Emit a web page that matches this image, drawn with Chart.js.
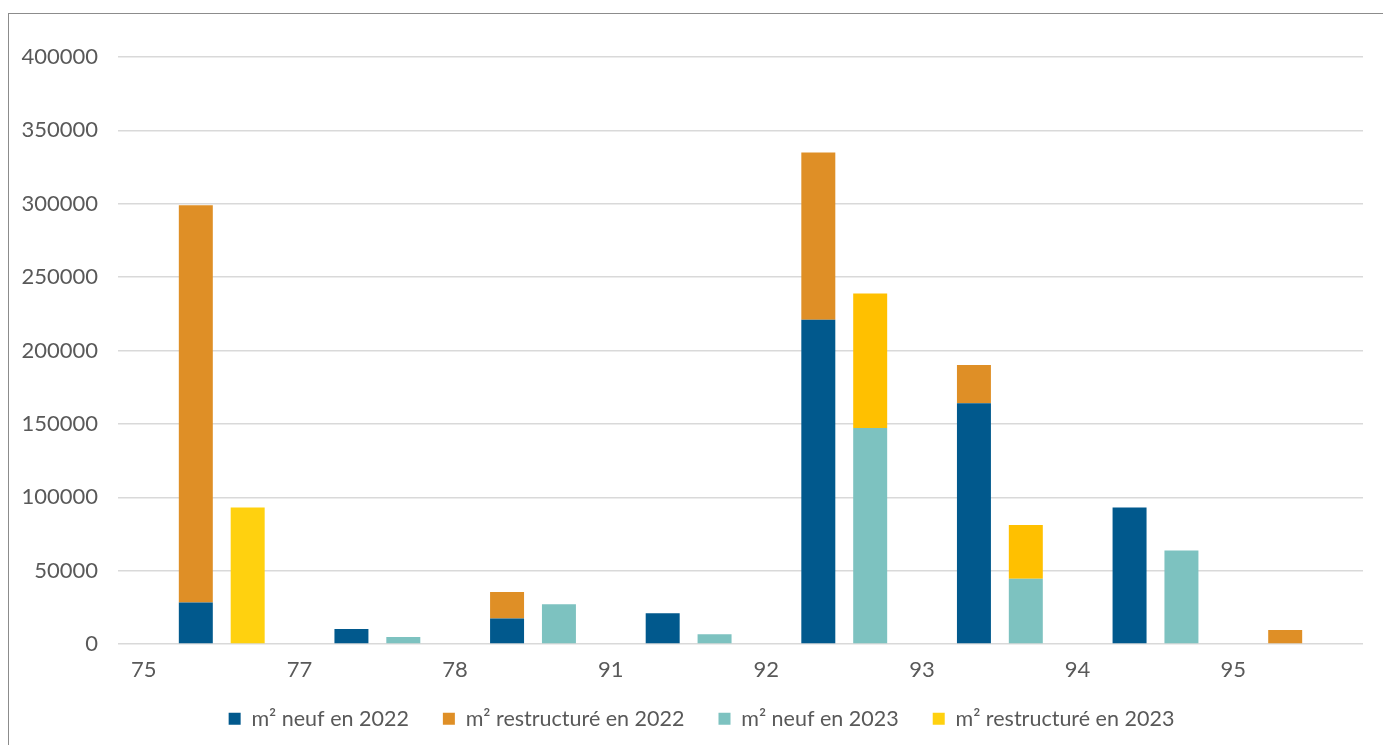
<!DOCTYPE html>
<html lang="fr">
<head>
<meta charset="utf-8">
<title>m² neuf / restructuré 2022-2023</title>
<script src="https://cdn.jsdelivr.net/npm/chart.js@4/dist/chart.umd.min.js"></script>
<style>
  html, body { margin: 0; padding: 0; background: #fff; overflow: hidden; }
  #wrap { position: relative; width: 1383px; height: 745px; }
  #frame {
    position: absolute; left: 8px; top: 13px; width: 1400px; height: 760px;
    border: 1px solid #8c8c8c; box-sizing: border-box; pointer-events: none;
  }
  #chart { position: absolute; left: 0; top: 0; }
</style>
</head>
<body>
<div id="wrap">
  <div id="frame"></div>
  <canvas id="chart" width="1383" height="745"></canvas>
</div>
<script>
// Departments on the x axis
const departements = ['75', '77', '78', '91', '92', '93', '94', '95'];

// Series values (m²)
const neuf2022 = [28200, 10300, 17300, 21000, 221000, 164000, 93000, 0];
const restructure2022 = [270800, 0, 18200, 0, 114000, 26200, 0, 9500];
const neuf2023 = [0, 4800, 27100, 6700, 147200, 44400, 63700, 0];
const restructure2023 = [93000, 0, 0, 0, 91700, 36700, 0, 0];

const seriesLabels = [
  'm² neuf en 2022',
  'm² restructuré en 2022',
  'm² neuf en 2023',
  'm² restructuré en 2023'
];

// Y axis range
const yMin = 0;
const yMax = 400000;
const yStep = 50000;

const textColor = '#595959';
const fontFamily = 'Lato, "Open Sans", sans-serif';

// empty slot so each group sits like in the original (label on the left slot)
const emptySlot = departements.map(() => 0);

// the legend items need wide gaps but sit close to the axis: lift it a bit,
// and center it a little to the right like the original
const moveLegend = {
  id: 'moveLegend',
  afterLayout(chart) {
    const lg = chart.legend;
    if (!lg) return;
    lg.top -= 10;
    lg.bottom -= 10;
    lg.left += 20;
    lg.right += 20;
  }
};

const chart = new Chart(document.getElementById('chart'), {
  type: 'bar',
  data: {
    labels: departements,
    datasets: [
      { label: '', data: emptySlot, stack: 'vide', backgroundColor: 'rgba(0,0,0,0)' },
      { label: seriesLabels[0], data: neuf2022, stack: '2022', backgroundColor: '#01598D' },
      { label: seriesLabels[1], data: restructure2022, stack: '2022', backgroundColor: '#DF8F26' },
      { label: seriesLabels[2], data: neuf2023, stack: '2023', backgroundColor: '#7DC2C0' },
      {
        label: seriesLabels[3], data: restructure2023, stack: '2023',
        backgroundColor: departements.map((d, i) => i === 0 ? '#FFD10F' : '#FFC000')
      }
    ]
  },
  options: {
    responsive: false,
    animation: false,
    layout: { padding: { top: 57, right: 20, bottom: -4.5, left: 0 } },
    datasets: {
      bar: { categoryPercentage: 1.0, barPercentage: 0.655, borderWidth: 0 }
    },
    scales: {
      x: {
        grid: { display: false, drawTicks: false },
        border: { display: false },
        ticks: {
          color: textColor,
          font: { family: fontFamily, size: 22 },
          padding: 13,
          labelOffset: -52,
          maxRotation: 0,
          minRotation: 0
        },
        afterFit: (scale) => { scale.height = 40; }
      },
      y: {
        stacked: true,
        min: yMin,
        max: yMax,
        grid: { color: '#d9d9d9', lineWidth: 1.5, drawTicks: false },
        border: { display: false },
        ticks: {
          stepSize: yStep,
          color: textColor,
          font: { family: fontFamily, size: 22 },
          padding: 20,
          callback: (v) => String(v)
        },
        afterFit: (scale) => { scale.width = 118; }
      }
    },
    plugins: {
      legend: {
        position: 'bottom',
        labels: {
          color: textColor,
          font: { family: fontFamily, size: 21.5 },
          boxWidth: 12,
          boxHeight: 12,
          padding: 34,
          filter: (item) => item.text !== ''
        }
      },
      tooltip: { enabled: false }
    }
  },
  plugins: [moveLegend]
});
</script>
</body>
</html>
